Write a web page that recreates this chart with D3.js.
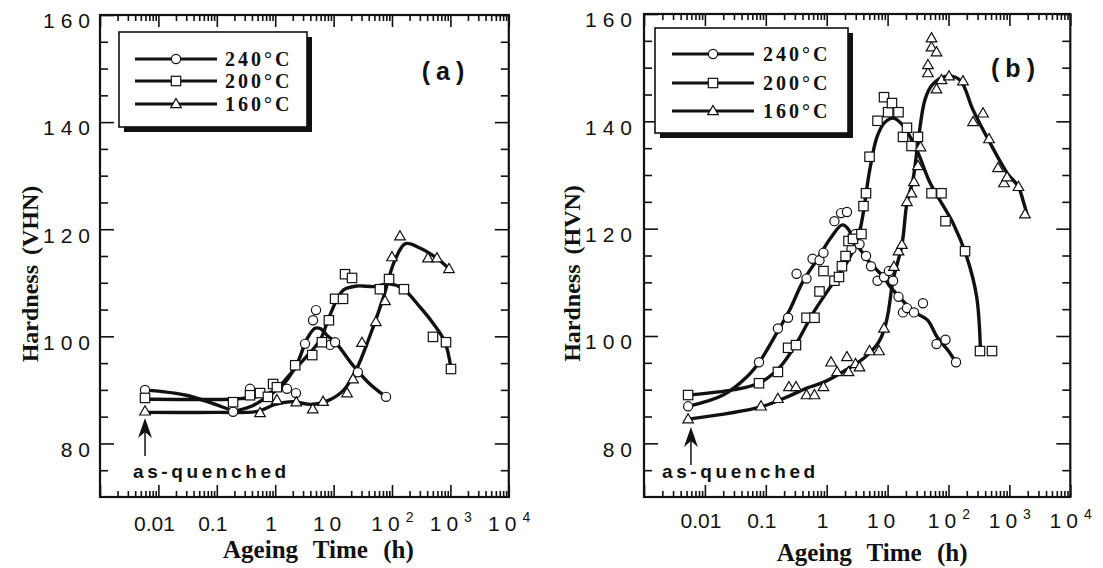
<!DOCTYPE html>
<html><head><meta charset="utf-8">
<script src="https://cdn.jsdelivr.net/npm/d3@7"></script>
<style>body{margin:0;background:#fff;overflow:hidden}</style>
</head><body><svg id="c" width="1103" height="568"></svg>
<script>
// ---------- data ----------
const timeDomain = [1e-3, 1e4];
const hardDomain = [70, 160];
const yMajor = [80, 100, 120, 140, 160];
const yMinor = [75, 85, 90, 95, 105, 110, 115, 125, 130, 135, 145, 150, 155];
const xLabelAt = [0.01, 0.1, 1, 10, 100, 1000, 10000];
const xLabelBase = ["0.01", "0.1", "1", "10", "10", "10", "10"];
const xLabelExp = ["", "", "", "", "2", "3", "4"];
const seriesNames = ["240°C", "200°C", "160°C"];
const yTitles = ["Hardness (VHN)", "Hardness (HVN)"];
const panelTags = ["(a)", "(b)"];
const xTitle = "Ageing Time (h)";
const noteText = "as-quenched";
const asQuenchedTime = 0.0059;

// panel (a) measured points [time (h), hardness]
const a240 = [[0.0059,90],[0.19,85.9],[0.37,90.2],[1.59,90.2],[2.27,89.4],[3.24,98.6],[4.44,103],[5.0,104.9],[8.7,98.4],[10.6,98.9],[26,93.3],[79,88.7]];
const a200 = [[0.0059,88.5],[0.19,87.7],[0.37,89.0],[0.55,89.4],[0.75,88.7],[0.92,91.1],[1.07,90.5],[2.2,94.6],[4.3,96.5],[6.3,98.9],[8.3,103],[10.6,107],[14.5,107],[15.7,111.6],[20.7,110.9],[62,108.8],[89,110.7],[160,108.8],[503,99.9],[841,98.9],[1024,93.9]];
const a160 = [[0.0059,86],[0.55,85.7],[1.07,88.1],[2.3,87.7],[4.4,86.4],[6.6,87.8],[17,89.4],[21.5,92],[30.6,98.8],[53,102.7],[76,106.6],[100,114.8],[137,118.7],[413,114.6],[589,114.6],[946,112.6]];
// panel (a) fitted curves
const a240Fit = [[0.0059,90],[0.03,89],[0.1,87.2],[0.2,86.2],[0.4,87],[0.8,89],[1.5,91.5],[2.5,95.5],[3.5,99.5],[4.8,101.5],[6,101.4],[8,100],[10.6,99],[20,95],[40,91.3],[79,88.7]];
const a200Fit = [[0.0059,88.3],[0.05,88.2],[0.2,88.3],[0.5,88.8],[1,90],[2,93.5],[4,97],[6,99.5],[8,103],[11,106.5],[15,108.7],[25,109.4],[50,109.3],[90,109.8],[150,109],[300,105.5],[500,102.5],[800,99],[1024,94]];
const a160Fit = [[0.0059,85.8],[0.1,85.8],[0.5,86],[1,87.3],[2,87.8],[4,87.3],[8,88],[15,90],[25,94],[40,99.5],[70,107],[110,114],[170,117.3],[300,116.5],[600,114.5],[946,112.6]];

// panel (b) measured points
const b240 = [[0.0053,86.9],[0.0773,95.1],[0.158,101.4],[0.232,103.4],[0.32,111.6],[0.466,110.7],[0.585,114.4],[0.762,114.1],[0.885,115.5],[1.34,121.4],[1.72,122.9],[2.15,123.1],[2.97,119.0],[2.55,116.2],[3.46,117.1],[4.42,114.9],[5.34,113.0],[6.83,110.3],[8.73,111.0],[10.5,112.1],[12.3,110.3],[15.1,107.3],[17.9,104.4],[20.8,105.2],[27.1,104.4],[38.1,106.1],[63.5,98.5],[89.3,99.3],[133,95.1]];
const b200 = [[0.0053,89.0],[0.0773,91.2],[0.158,93.3],[0.232,97.8],[0.313,98.3],[0.466,103.4],[0.63,103.4],[0.762,108.3],[0.885,112.1],[1.34,110.3],[1.59,111.0],[1.78,113.0],[2.04,114.9],[2.28,117.7],[2.70,118.1],[3.72,119.0],[4.02,124.2],[4.42,126.6],[5.05,133.4],[6.83,140.1],[8.73,144.5],[10.2,141.7],[11.8,143.4],[15.1,141.7],[17.9,137.1],[20.8,138.8],[24.7,135.4],[31.5,137.1],[52.6,126.6],[76.7,126.6],[89.3,121.4],[187,115.8],[329,97.2],[518,97.2]];
const b160 = [[0.0053,84.5],[0.0834,86.9],[0.158,88.3],[0.24,90.5],[0.313,90.5],[0.466,89.0],[0.63,89.0],[0.885,90.5],[1.18,95.1],[1.48,93.3],[2.15,96.1],[2.28,93.3],[2.97,94.8],[3.46,94.2],[5.05,97.2],[7.23,97.2],[8.73,101.4],[12.7,112.9],[15.1,115.8],[17.2,117.0],[20.8,125.0],[24.7,126.6],[27.1,128.7],[31.5,131.7],[34.7,135.2],[46,149.0],[46,150.5],[52.6,153.8],[52.6,155.5],[63.5,152.9],[63.5,146.0],[76.7,147.7],[102,148.4],[173,147.5],[253,139.9],[369,141.5],[463,136.7],[650,131.3],[815,128.5],[914,129.6],[1409,127.8],[1803,122.7]];
// panel (b) fitted curves
const b240Fit = [[0.0053,86.9],[0.02,89],[0.05,92.5],[0.08,95.3],[0.15,100.5],[0.25,105],[0.4,110],[0.7,114.3],[1.2,118.5],[1.8,120.7],[2.3,119.8],[2.8,117.5],[3.5,116.2],[5,113.8],[8.5,111],[11,109.2],[18,106.5],[27,104.5],[45,103],[65,99.8],[100,97.2],[133,95]];
const b200Fit = [[0.0053,89],[0.03,90],[0.08,91.3],[0.17,94.2],[0.32,98.7],[0.6,104.3],[1.27,109.9],[2.4,114.7],[3.5,119.7],[5.1,131],[6.7,137.1],[9,139.8],[12.3,140.6],[17.7,139.3],[30,134.7],[50,128.5],[119,121],[200,114.7],[290,107.3],[335,97.2]];
const b160Fit = [[0.0053,84.5],[0.083,86.8],[0.24,88.8],[0.47,90.3],[0.9,91.4],[2.1,93.7],[4.3,96.1],[7,98.7],[8.7,101],[10.2,104.3],[12.3,110.4],[17.2,117],[20.8,124.8],[26,129],[31.5,136],[41,144],[54,146.8],[94,148.4],[154,147.7],[253,142.1],[480,136],[914,130.4],[1409,127.8],[1671,125.3],[1945,122.7]];

// ---------- layout ----------
const SANS = "'Liberation Sans', Arial, Helvetica, sans-serif";
const SERIF = "'Liberation Serif', 'Times New Roman', serif";
const svg = d3.select("#c");
const shapes = ["circle", "square", "triangle"];

const panels = [
  { left:100, right:508.8, top:15, bottom:497,
    pts:[a240,a200,a160], fits:[a240Fit,a200Fit,a160Fit],
    legend:{x:119,y:32,w:188,h:95,rows:[27,49,72],lx0:16,lx1:98,tx:106},
    tag:{x:446,y:80}, ytitleX:30, ylabX:96, xlabY:531, xtitleY:558, xtitleDX:14,
    note:{x:133,y:478}, arrowTop:418 },
  { left:644, right:1070.3, top:14, bottom:497,
    pts:[b240,b200,b160], fits:[b240Fit,b200Fit,b160Fit],
    legend:{x:655,y:28,w:193,h:105,rows:[26,55,83],lx0:17,lx1:99,tx:108},
    tag:{x:1016,y:77}, ytitleX:572, ylabX:638, xlabY:528, xtitleY:561, xtitleDX:15,
    note:{x:662,y:478}, arrowTop:427 }
];

function drawMarker(g, shape, cx, cy) {
  if (shape === "circle") {
    g.append("circle").attr("cx", cx).attr("cy", cy).attr("r", 4.6)
      .attr("fill", "#fff").attr("stroke", "#111").attr("stroke-width", 1.2);
  } else if (shape === "square") {
    g.append("rect").attr("x", cx - 4.7).attr("y", cy - 4.7).attr("width", 9.4).attr("height", 9.4)
      .attr("fill", "#fff").attr("stroke", "#111").attr("stroke-width", 1.2);
  } else {
    g.append("path").attr("d", `M${cx},${cy-5.5}L${cx+5.3},${cy+3.7}L${cx-5.3},${cy+3.7}Z`)
      .attr("fill", "#fff").attr("stroke", "#111").attr("stroke-width", 1.2);
  }
}

panels.forEach((p, pi) => {
  const x = d3.scaleLog().domain(timeDomain).range([p.left, p.right]);
  const y = d3.scaleLinear().domain(hardDomain).range([p.bottom, p.top]);
  const g = svg.append("g");

  const allT = x.ticks();
  const major = allT.filter(t => Math.abs(Math.log10(t) - Math.round(Math.log10(t))) < 1e-9);
  const minor = allT.filter(t => !major.includes(t));

  const axStyle = sel => { sel.select(".domain").remove(); sel.selectAll("line").attr("stroke", "#111").attr("stroke-width", 1.6); };
  g.append("g").attr("transform", `translate(0,${p.bottom})`).call(d3.axisBottom(x).tickValues(minor).tickSize(-6).tickFormat("")).call(axStyle);
  g.append("g").attr("transform", `translate(0,${p.bottom})`).call(d3.axisBottom(x).tickValues(major).tickSize(-12).tickFormat("")).call(axStyle);
  g.append("g").attr("transform", `translate(0,${p.top})`).call(d3.axisTop(x).tickValues(minor).tickSize(-6).tickFormat("")).call(axStyle);
  g.append("g").attr("transform", `translate(0,${p.top})`).call(d3.axisTop(x).tickValues(major).tickSize(-12).tickFormat("")).call(axStyle);
  g.append("g").attr("transform", `translate(${p.left},0)`).call(d3.axisLeft(y).tickValues(yMinor).tickSize(-8).tickFormat("")).call(axStyle);
  g.append("g").attr("transform", `translate(${p.left},0)`).call(d3.axisLeft(y).tickValues(yMajor).tickSize(-14).tickFormat("")).call(axStyle);
  g.append("g").attr("transform", `translate(${p.right},0)`).call(d3.axisRight(y).tickValues(yMinor).tickSize(-8).tickFormat("")).call(axStyle);
  g.append("g").attr("transform", `translate(${p.right},0)`).call(d3.axisRight(y).tickValues(yMajor).tickSize(-14).tickFormat("")).call(axStyle);

  g.append("rect").attr("x", p.left).attr("y", p.top).attr("width", p.right - p.left).attr("height", p.bottom - p.top)
    .attr("fill", "none").attr("stroke", "#111").attr("stroke-width", 2.2);

  // y labels
  yMajor.forEach(v => {
    g.append("text").attr("x", p.ylabX).attr("y", y(v) + 6).attr("dy", "0.35em")
      .attr("text-anchor", "end").attr("font-family", SANS).attr("font-size", 21)
      .attr("letter-spacing", "6px").attr("fill", "#111").text(v);
  });
  // x labels
  xLabelAt.forEach((t, i) => {
    const isTen = xLabelBase[i] === "10";
    const tx = g.append("text").attr("x", x(t) - 4).attr("y", p.xlabY)
      .attr("text-anchor", "middle").attr("font-family", SANS).attr("font-size", 21)
      .attr("letter-spacing", isTen ? "5px" : "0px").attr("fill", "#111").text(xLabelBase[i]);
    if (xLabelExp[i]) {
      const bb = tx.node().getBBox();
      g.append("text").attr("x", bb.x + bb.width + 1).attr("y", p.xlabY - 9)
        .attr("font-family", SANS).attr("font-size", 14).attr("fill", "#111").text(xLabelExp[i]);
    }
  });
  // titles
  g.append("text").attr("transform", `translate(${p.ytitleX},${(p.top + p.bottom) / 2 + 18}) rotate(-90)`)
    .attr("dy", "0.35em").attr("text-anchor", "middle").attr("font-family", SERIF).attr("font-weight", "bold")
    .attr("font-size", 24).attr("word-spacing", "4px").attr("fill", "#111").text(yTitles[pi]);
  g.append("text").attr("x", (p.left + p.right) / 2 + p.xtitleDX).attr("y", p.xtitleY)
    .attr("text-anchor", "middle").attr("font-family", SERIF).attr("font-weight", "bold")
    .attr("font-size", 25).attr("word-spacing", "9px").attr("fill", "#111").text(xTitle);

  // curves
  const line = d3.line().x(d => x(d[0])).y(d => y(d[1])).curve(d3.curveCatmullRom.alpha(0.5));
  p.fits.forEach(f => {
    g.append("path").attr("d", line(f)).attr("fill", "none").attr("stroke", "#111")
      .attr("stroke-width", 3.4).attr("stroke-linejoin", "round").attr("stroke-linecap", "round");
  });
  // markers
  p.pts.forEach((s, si) => s.forEach(d => drawMarker(g, shapes[si], x(d[0]), y(d[1]))));

  // legend
  const L = p.legend;
  g.append("rect").attr("x", L.x + 5).attr("y", L.y + 5).attr("width", L.w).attr("height", L.h).attr("fill", "#111");
  g.append("rect").attr("x", L.x).attr("y", L.y).attr("width", L.w).attr("height", L.h)
    .attr("fill", "#fff").attr("stroke", "#111").attr("stroke-width", 1.6);
  seriesNames.forEach((nm, i) => {
    const ry = L.y + L.rows[i];
    g.append("line").attr("x1", L.x + L.lx0).attr("x2", L.x + L.lx1).attr("y1", ry).attr("y2", ry)
      .attr("stroke", "#111").attr("stroke-width", 3);
    drawMarker(g, shapes[i], L.x + (L.lx0 + L.lx1) / 2, ry);
    g.append("text").attr("x", L.x + L.tx).attr("y", ry).attr("dy", "0.35em")
      .attr("font-family", SERIF).attr("font-weight", "bold").attr("font-size", 20)
      .attr("letter-spacing", "3px").attr("fill", "#111").text(nm);
  });

  // panel tag
  g.append("text").attr("x", p.tag.x).attr("y", p.tag.y).attr("text-anchor", "middle")
    .attr("font-family", SANS).attr("font-weight", "bold").attr("font-size", 25)
    .attr("letter-spacing", "6px").attr("fill", "#111").text(panelTags[pi]);

  // as-quenched note and arrow
  const ax = x(asQuenchedTime);
  const at = p.arrowTop;
  g.append("line").attr("x1", ax).attr("x2", ax).attr("y1", at + 12).attr("y2", at + 38)
    .attr("stroke", "#111").attr("stroke-width", 1.5);
  g.append("path").attr("d", `M${ax},${at}L${ax + 7},${at + 20}L${ax},${at + 14}L${ax - 7},${at + 20}Z`).attr("fill", "#111");
  g.append("text").attr("x", p.note.x).attr("y", p.note.y)
    .attr("font-family", SANS).attr("font-weight", "bold").attr("font-size", 19)
    .attr("letter-spacing", "3.6px").attr("fill", "#111").text(noteText);
});
</script>
</body></html>
